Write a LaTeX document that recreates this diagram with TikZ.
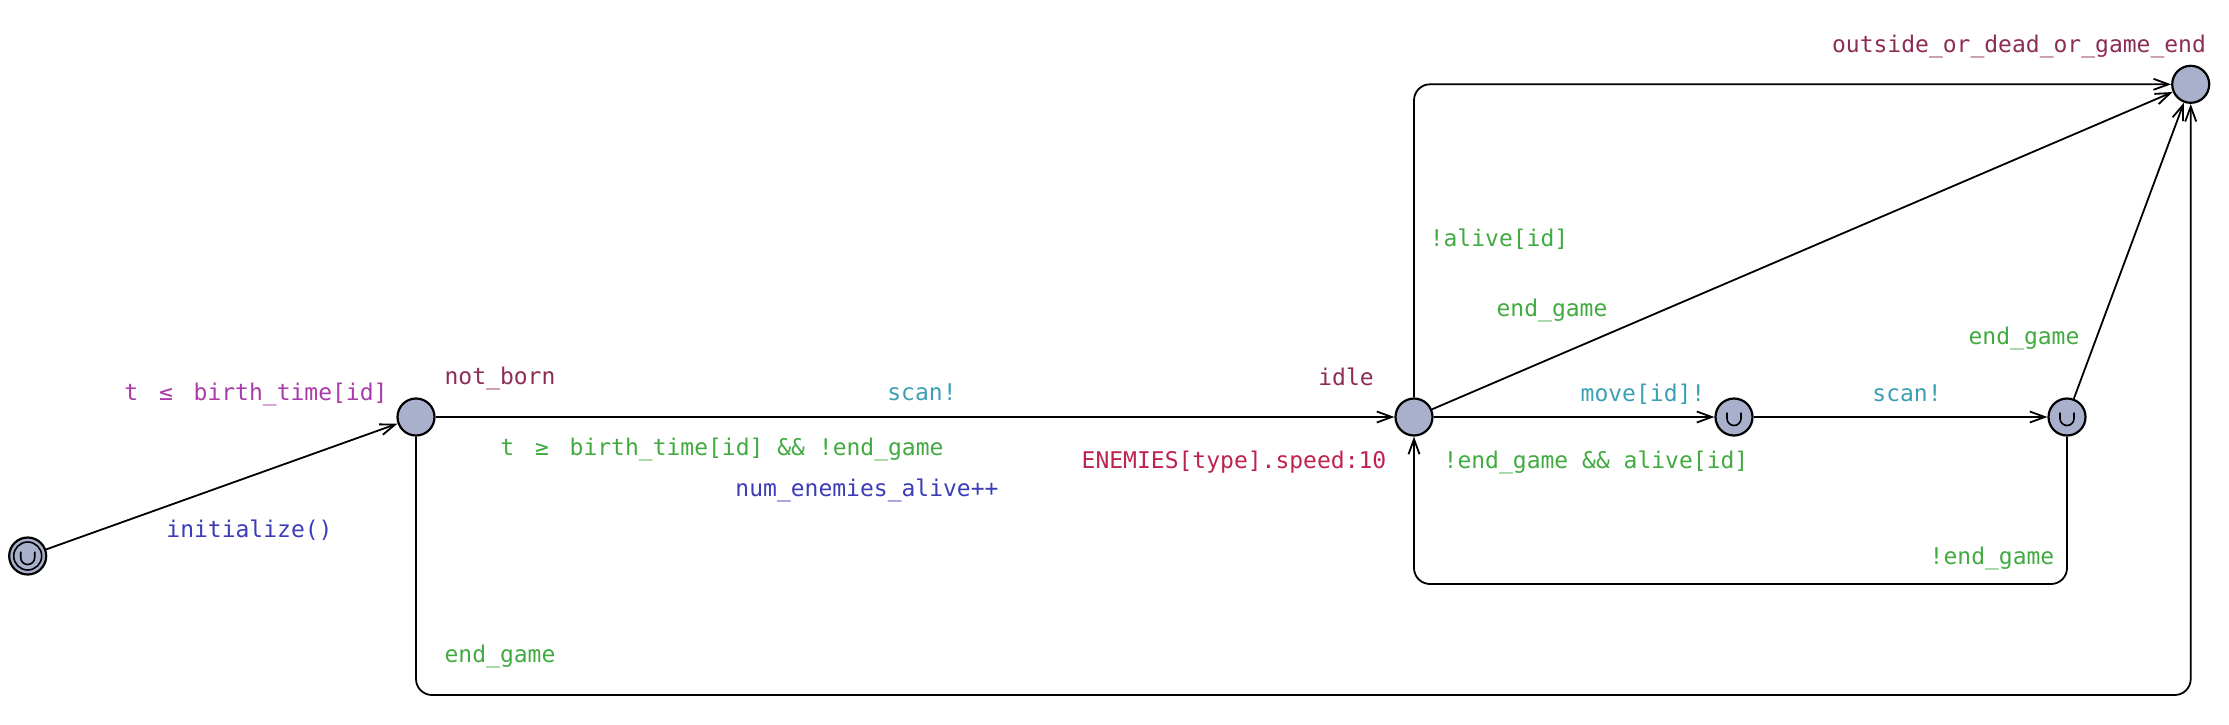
\documentclass[tikz,border=0pt]{standalone}
\usepackage{fontspec}
\setmainfont{DejaVu Sans Mono}
\usetikzlibrary{arrows.meta}
\definecolor{locfill}{RGB}{168,176,204}
\definecolor{locname}{RGB}{140,45,85}
\definecolor{invcol}{RGB}{170,60,170}
\definecolor{ratecol}{RGB}{190,35,80}
\definecolor{guardcol}{RGB}{65,170,65}
\definecolor{synccol}{RGB}{60,160,180}
\definecolor{updcol}{RGB}{60,60,185}
\newcommand\twocell[1]{\makebox[1.204em]{#1}}
\newcommand\urgmark[1]{\draw[line width=1.6pt] ([shift={(-7,-4.5)}]#1.center) -- ++(0,6) arc[start angle=180,end angle=360,radius=7pt] -- ++(0,-6);}
\begin{document}
\begin{tikzpicture}[x=1pt,y=-1pt,
  loc/.style={circle, draw=black, line width=2.2pt, fill=locfill, minimum size=37pt, inner sep=0pt},
  lbl/.style={inner sep=0pt, font=\fontsize{23}{27}\selectfont, text height=17pt, text depth=5pt},
  edge/.style={line width=1.8pt, -{Straight Barb[length=15pt,width=11pt,line width=1.8pt]}},
  corner/.style={rounded corners=16pt}]
\useasboundingbox (0,0) rectangle (2229,724);
% locations
\node[loc] (init) at (27.7,556) {};
\node[loc] (nb) at (416,417) {};
\node[loc] (idle) at (1414,417) {};
\node[loc] (m1) at (1734,417) {};
\node[loc] (m2) at (2067,417) {};
\node[loc] (final) at (2190.7,84.3) {};
\draw[line width=1.6pt] (init.center) circle (14pt);
\urgmark{init}
\urgmark{m1}
\urgmark{m2}
\coordinate (lb) at (1414,584);
\coordinate (br) at (2190.7,695);
% edges
\draw[edge] (init) -- (nb);
\draw[edge] (nb) -- (idle);
\draw[edge] (idle) -- (m1);
\draw[edge] (m1) -- (m2);
\draw[edge,corner] (m2.south) |- (lb) -- (idle.south);
\draw[edge,corner] (idle.north) |- (final.west);
\draw[edge] (idle) -- (final);
\draw[edge] (m2) -- (final);
\draw[edge,corner] (nb.south) |- (br) -- (final.south);
% labels
\node[lbl,text=locname] (nbname) at (500,378) {not\_born};
\node[lbl,text=locname] (idlename) at (1346,379) {idle};
\node[lbl,text=locname] (finalname) at (2019,46) {outside\_or\_dead\_or\_game\_end};
\node[lbl,text=invcol] (inv) at (256,394) {t \twocell{≤} birth\_time[id]};
\node[lbl,text=ratecol] (rate) at (1234,462) {ENEMIES[type].speed:10};
\node[lbl,text=updcol] (u0) at (249.5,531) {initialize()};
\node[lbl,text=synccol] (s1) at (922,394) {scan!};
\node[lbl,text=guardcol] (g1) at (722,449) {t \twocell{≥} birth\_time[id] \&\& !end\_game};
\node[lbl,text=updcol] (u1) at (867,490) {num\_enemies\_alive++};
\node[lbl,text=synccol] (s2) at (1643,395) {move[id]!};
\node[lbl,text=guardcol] (g2) at (1596,462) {!end\_game \&\& alive[id]};
\node[lbl,text=synccol] (s3) at (1907,395) {scan!};
\node[lbl,text=guardcol] (g3) at (1992,558) {!end\_game};
\node[lbl,text=guardcol] (g4) at (2024,338) {end\_game};
\node[lbl,text=guardcol] (g5) at (1552,310) {end\_game};
\node[lbl,text=guardcol] (g6) at (1499,240) {!alive[id]};
\node[lbl,text=guardcol] (g7) at (500,656) {end\_game};
\end{tikzpicture}
\end{document}
